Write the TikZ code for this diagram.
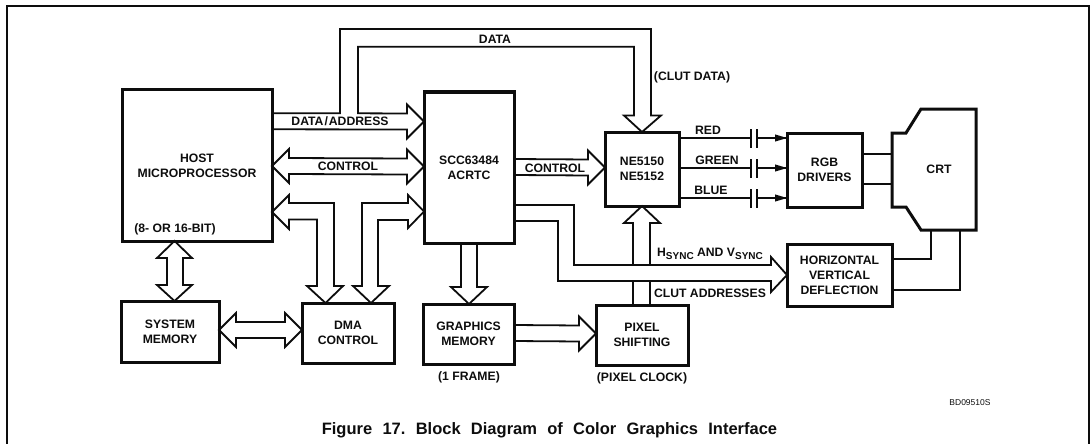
\documentclass[tikz,border=0pt]{standalone}
\usepackage{fontspec}
\setmainfont{Liberation Sans}
\usetikzlibrary{calc}
\newcommand{\busR}[2]{\draw[busline] ([yshift=8pt]#1) -- ([shift={(-17pt,8pt)}]#2) -- ([shift={(-17pt,17pt)}]#2) -- (#2) -- ([shift={(-17pt,-17pt)}]#2) -- ([shift={(-17pt,-8pt)}]#2) -- ([yshift=-8pt]#1);}
\newcommand{\busLR}[2]{\draw[busline] ([shift={(17pt,8pt)}]#1) -- ([shift={(17pt,17pt)}]#1) -- (#1) -- ([shift={(17pt,-17pt)}]#1) -- ([shift={(17pt,-8pt)}]#1) -- ([shift={(-17pt,-8pt)}]#2) -- ([shift={(-17pt,-17pt)}]#2) -- (#2) -- ([shift={(-17pt,17pt)}]#2) -- ([shift={(-17pt,8pt)}]#2) -- cycle;}
\newcommand{\busD}[2]{\draw[busline] ([xshift=-8pt]#1) -- ([shift={(-8pt,17pt)}]#2) -- ([shift={(-18pt,17pt)}]#2) -- (#2) -- ([shift={(18pt,17pt)}]#2) -- ([shift={(8pt,17pt)}]#2) -- ([xshift=8pt]#1);}
\newcommand{\sig}[1]{%
  \coordinate (#1p) at ($(#1a)+(72pt,0)$);
  \draw[thinline] (#1a) -- (#1p);
  \draw[thinline] ([yshift=-9.5pt]#1p) -- ([yshift=9.5pt]#1p);
  \draw[thinline] ([shift={(6pt,-9.5pt)}]#1p) -- ([shift={(6pt,9.5pt)}]#1p);
  \draw[thinline] ([xshift=6pt]#1p) -- (#1b);
  \fill[ink] (#1b) -- ([shift={(-12pt,3.6pt)}]#1b) -- ([shift={(-12pt,-3.6pt)}]#1b) -- cycle;}
\definecolor{ink}{gray}{0.05}
\newcommand{\lab}{\fontsize{12.2}{15}\selectfont\bfseries}
\newcommand{\capgap}{\hspace{10.3pt}}
\tikzset{
  x=1pt,y=-1pt,
  box/.style={draw=ink,line width=3pt,outer sep=0pt,inner sep=0pt,align=center,font=\lab,text=ink},
  lab/.style={inner sep=0pt,outer sep=0pt,align=center,font=\lab,text=ink},
  busline/.style={draw=ink,line width=1.8pt,line join=miter},
  thinline/.style={draw=ink,line width=1.8pt},
  heavy/.style={draw=ink,line width=3pt,line join=miter},
}
\begin{document}
\begin{tikzpicture}
\useasboundingbox (0,0) rectangle (1090,444);
\draw[draw=ink,line width=1.2pt] (7,444) -- (7,6) -- (1089,6) -- (1089,444);

% boxes
\node[box,minimum width=150pt,minimum height=151pt] (host) at (197,165.5) {HOST\\MICROPROCESSOR};
\node[box,minimum width=90pt,minimum height=151pt] (acrtc) at (469,167.5) {SCC63484\\ACRTC};
\node[box,minimum width=74pt,minimum height=74pt] (ne) at (642,169) {NE5150\\NE5152};
\node[box,minimum width=75pt,minimum height=74pt] (rgb) at (824.5,170) {RGB\\DRIVERS};
\node[box,minimum width=105pt,minimum height=62pt] (defl) at (839.5,275) {HORIZONTAL\\VERTICAL\\DEFLECTION};
\node[box,minimum width=98pt,minimum height=61pt] (sysm) at (170,331.5) {SYSTEM\\MEMORY};
\node[box,minimum width=92pt,minimum height=60pt] (dma) at (348,333) {DMA\\CONTROL};
\node[box,minimum width=91pt,minimum height=60pt] (gmem) at (468.5,334) {GRAPHICS\\MEMORY};
\node[box,minimum width=92pt,minimum height=60pt] (pix) at (642,335) {PIXEL\\SHIFTING};

% CRT
\coordinate (crtA) at (892,133);
\coordinate (crtB) at (906,133);
\coordinate (crtC) at (921,109);
\coordinate (crtD) at (976,109);
\coordinate (crtE) at (976,230);
\coordinate (crtF) at (921,230);
\coordinate (crtG) at (906,207);
\coordinate (crtH) at (892,207);
\draw[heavy] (crtA) -- (crtB) -- (crtC) -- (crtD) -- (crtE) -- (crtF) -- (crtG) -- (crtH) -- cycle;
\node[lab] (crt) at (939,169) {CRT};

% RGB - CRT
\draw[thinline] (rgb.east |- 0,154) -- (crtA |- 0,154);
\draw[thinline] (rgb.east |- 0,184) -- (crtA |- 0,184);
% deflection - CRT
\coordinate (dc1) at (931,230);
\coordinate (dc2) at (960,230);
\draw[thinline] (defl.east |- 0,259) -| (dc1);
\draw[thinline] (defl.east |- 0,290) -| (dc2);

% DATA/ADDRESS bus with DATA branch
\coordinate (daS) at (host.east |- 0,121.3);
\coordinate (daT) at (acrtc.west |- 0,121.5);
\draw[busline] ([yshift=-8pt]daS) -- ([shift={(-17pt,-8pt)}]daT) -- ([shift={(-17pt,-17pt)}]daT) -- (daT) -- ([shift={(-17pt,17pt)}]daT) -- ([shift={(-17pt,8pt)}]daT) -- (358,113.3) -- (358,46.7) -- (634,46.7) -- (634,115.5) -- (624,115.5) -- (ne.north) -- (661,115.5) -- (651,115.5) -- (651,29) -- (340,29) -- (340,113.3) -- ([yshift=8pt]daS);

% control double arrow
\coordinate (ctlL) at (host.east |- 0,166);
\coordinate (ctlR) at (acrtc.west |- 0,166.5);
\busLR{ctlL}{ctlR}

% host - system memory
\draw[busline] (174.5,241) -- (192,258) -- (183,258) -- (183,285) -- (192,285) -- (174.5,301) -- (157,285) -- (167,285) -- (167,258) -- (157,258) -- cycle;

% sysmem - dma
\coordinate (smL) at (sysm.east |- 0,330);
\coordinate (smR) at (dma.west |- 0,330);
\busLR{smL}{smR}

% host - dma (elbow double arrow)
\draw[busline] (host.east |- 0,212) -- (289,195) -- (289,203) -- (334,203) -- (334,286) -- (343,286) -- (325.5,0 |- dma.north) -- (307,286) -- (317,286) -- (317,219.5) -- (289,219.5) -- (289,229) -- cycle;
% acrtc - dma (elbow double arrow)
\draw[busline] (acrtc.west |- 0,211.5) -- (408,195) -- (408,203) -- (362,203) -- (362,286) -- (353,286) -- (371,0 |- dma.north) -- (389,286) -- (378,286) -- (378,220) -- (408,220) -- (408,228) -- cycle;

% acrtc - graphics memory
\coordinate (agS) at (469,243);
\coordinate (agT) at (469,304);
\busD{agS}{agT}

% graphics memory - pixel
\coordinate (gpS) at (gmem.east |- 0,333);
\coordinate (gpT) at (pix.west |- 0,333.5);
\busR{gpS}{gpT}

% acrtc - NE control
\coordinate (cnS) at (acrtc.east |- 0,167);
\coordinate (cnT) at (ne.west |- 0,167.5);
\busR{cnS}{cnT}

% pixel - NE
\draw[busline] (633,265) -- (633,223) -- (624,223) -- (ne.south) -- (660,223) -- (650,223) -- (650,265);
\draw[busline] (633,281) -- (633,0 |- pix.north);
\draw[busline] (650,281) -- (650,0 |- pix.north);

% sync bus
\coordinate (syT) at (defl.west);
\draw[busline] (acrtc.east |- 0,205) -- (574,205) -- (574,265) -- (771,265) -- (771,257) -- (syT) -- (771,292) -- (771,281) -- (558,281) -- (558,221) -- (acrtc.east |- 0,221);

% RGB signals
\coordinate (ra) at (ne.east |- 0,138);
\coordinate (rb) at (rgb.west |- 0,138);
\coordinate (ga) at (ne.east |- 0,168);
\coordinate (gb) at (rgb.west |- 0,168);
\coordinate (ba) at (ne.east |- 0,198);
\coordinate (bb) at (rgb.west |- 0,198);
\sig{r}\sig{g}\sig{b}

% labels
\node[lab] (l1) at (495,39) {DATA};
\node[lab] (l2) at (340,121) {DATA\hspace{1pt}/\hspace{1pt}ADDRESS};
\node[lab] (l3) at (348,166) {CONTROL};
\node[lab] (l4) at (175,229) {(8- OR 16-BIT)};
\node[lab] (l5) at (555,168) {CONTROL};
\node[lab] (l6) at (708,130) {RED};
\node[lab] (l7) at (717,160) {GREEN};
\node[lab] (l8) at (711,190) {BLUE};
\node[lab] (l9) at (692,77) {(CLUT DATA)};
\node[lab] (l10) at (710,254) {H\raisebox{-3pt}{\fontsize{10}{10}\selectfont SYNC} AND V\raisebox{-3pt}{\fontsize{10}{10}\selectfont SYNC}};
\node[lab] (l11) at (710,293) {CLUT ADDRESSES};
\node[lab] (l12) at (642,378) {(PIXEL CLOCK)};
\node[lab] (l13) at (469,377) {(1 FRAME)};
\node[inner sep=0pt,font=\fontsize{8.5}{9}\selectfont,text=ink] (l14) at (970,403) {BD09510S};
\node[inner sep=0pt,font=\fontsize{16.5}{18}\bfseries\selectfont,text=ink] (cap) at (549.5,430) {Figure\capgap 17.\capgap Block\capgap Diagram\capgap of\capgap Color\capgap Graphics\capgap Interface};
\end{tikzpicture}
\end{document}
